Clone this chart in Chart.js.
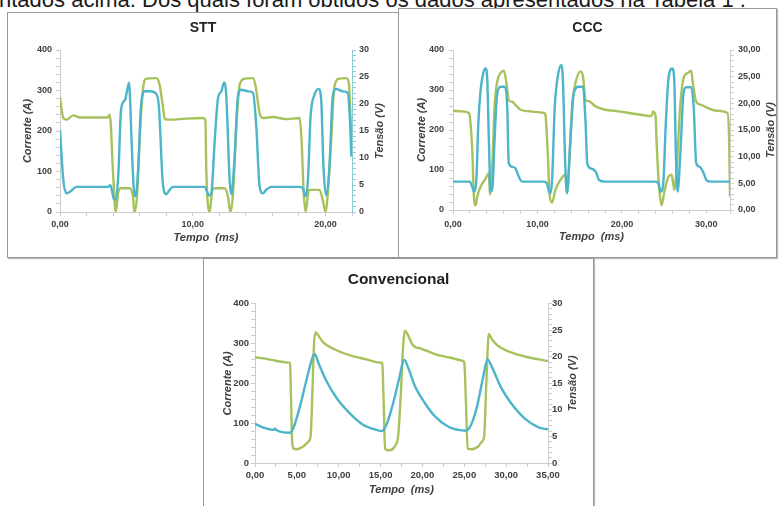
<!DOCTYPE html>
<html>
<head>
<meta charset="utf-8">
<script src="https://cdn.jsdelivr.net/npm/chart.js@4.4.1/dist/chart.umd.min.js"></script>
<style>
  body { margin: 0; width: 779px; height: 506px; overflow: hidden; background: #fff; position: relative;
         font-family: "Liberation Sans", Arial, sans-serif; }
  #texto { position: absolute; left: -1px; top: -11px; font-size: 22px; line-height: 22px; white-space: nowrap; color: #1a1a1a; }
  .painel { position: absolute; background: #fff; border: 1px solid #999; box-sizing: border-box; box-shadow: 1px 1px 1px #bbb; }
  .painel canvas { position: absolute; left: 0; top: 0; }
</style>
</head>
<body>
<div id="texto">ntados acima. Dos quais foram obtidos os dados apresentados na Tabela 1 .</div>
<div class="painel" style="left:7px;top:12px;width:392px;height:246px"><canvas id="stt" width="390" height="244"></canvas></div>
<div class="painel" style="left:398px;top:8px;width:379px;height:250px"><canvas id="ccc" width="377" height="248"></canvas></div>
<div class="painel" style="left:203px;top:258px;width:391px;height:250px"><canvas id="conv" width="389" height="248"></canvas></div>

<script>
// STT (tempo em ms, corrente em A, tensão em V)
const sttTempoCorrente = [0, 0.25, 0.5, 0.75, 1.25, 3.6, 3.8, 4.05, 4.2, 4.4, 4.6, 4.9, 5.2, 5.4, 5.55, 5.7, 5.9, 6.1, 6.4, 6.75, 7.25, 7.45, 7.75, 8.0, 8.25, 8.5,
  10.9, 11.23, 11.4, 11.66, 11.91, 12.16, 12.36, 12.53, 12.78, 12.91, 13.16, 13.41, 13.66, 14.16, 14.54, 14.79, 15.04, 15.29, 15.54, 15.92,
  18.05, 18.3, 18.5, 18.68, 18.88, 19.18, 19.48, 19.68, 19.85, 20.05, 20.3, 20.55, 20.8, 21.3, 21.68, 21.86, 21.95]
const sttCorrente = [203, 79, 46, 50, 62, 62, 66, 33, 31, 95, 253, 277, 319, 170, 62, 39, 112, 261, 298, 298, 292, 261, 70, 44, 54, 62,
  62, 41, 46, 178, 282, 298, 320, 286, 79, 44, 137, 286, 302, 298, 294, 211, 62, 46, 55, 62,
  62, 58, 39, 79, 236, 290, 304, 277, 112, 41, 112, 286, 304, 298, 294, 219, 137]
const sttTempoTensao = [0, 0.25, 0.5, 1.0, 1.5, 3.6, 3.75, 4.0, 4.2, 4.4, 4.6, 5.25, 5.5, 5.6, 5.8, 6.0, 6.25, 6.5, 7.25, 7.5, 7.75, 7.9, 8.25, 9.5, 10.75,
  10.95, 11.03, 11.28, 11.48, 11.66, 12.41, 12.66, 12.84, 13.04, 13.29, 13.54, 13.91, 14.54, 14.74, 15.04, 15.29, 16.0, 17.0, 18.05,
  18.2, 18.35, 18.5, 18.75, 19.55, 19.8, 20.0, 20.18, 20.43, 20.68, 21.05, 21.56, 21.76, 21.95]
const sttTensao = [21.2, 17.4, 17.1, 17.9, 17.5, 17.5, 18.0, 7.1, 0, 3.8, 4.4, 4.4, 2.8, 0, 2.8, 13.4, 22.7, 24.7, 24.8, 23.6, 19.6, 17.2, 17.1, 17.3, 17.4,
  17.1, 7.1, 0, 4.1, 4.4, 4.4, 2.8, 0, 3.5, 16.4, 23.6, 24.7, 24.8, 23.3, 18.3, 17.4, 17.6, 17.2, 17.4,
  13.4, 4.1, 0, 4.1, 4.1, 2.2, 0, 3.5, 13.4, 23.3, 24.7, 24.8, 23.9, 13.4]

// CCC
const cccTempoCorrente = [0, 2.0, 2.28, 2.48, 2.76, 3.0, 3.27, 3.58, 3.86, 4.06, 4.25, 4.45, 4.68, 4.92, 5.24, 5.7, 6.1, 6.42, 6.6, 7.0, 7.4, 7.8, 8.2,
  10.75, 11.1, 11.46, 11.73, 12.05, 12.4, 12.8, 13.0, 13.3, 13.5, 13.9, 14.3, 14.9, 15.4, 15.7, 15.9, 16.3, 16.9, 17.3, 18.0,
  23.9, 24.3, 24.6, 24.9, 25.2, 25.5, 25.96, 26.2, 26.4, 26.6, 26.9, 27.3, 27.6, 28.2, 28.5, 28.8, 29.2, 29.6, 30.0, 30.4, 32.8]
const cccCorrente = [71, 71, 58, 46, 75, 217, 300, 342, 354, 325, 175, 46, 58, 175, 292, 308, 308, 258, 117, 108, 104, 83, 71,
  71, 67, 42, 75, 258, 333, 362, 333, 108, 42, 175, 292, 308, 308, 217, 117, 104, 96, 75, 71,
  71, 67, 46, 67, 217, 325, 354, 325, 133, 46, 133, 292, 307, 307, 258, 117, 108, 96, 75, 71, 71]
const cccTempoTensao = [0, 1.0, 1.89, 2.0, 2.28, 2.48, 2.68, 2.87, 3.27, 3.86, 4.25, 4.37, 4.65, 4.92, 5.24, 5.63, 6.02, 6.3, 6.6, 7.0, 7.4, 8.0, 9.2, 10.75,
  10.94, 11.2, 11.46, 11.73, 12.13, 12.7, 13.3, 13.5, 13.8, 14.1, 14.5, 15.1, 15.4, 15.7, 16.1, 16.9, 18.0, 19.6, 21.6, 23.5, 23.7, 24.0,
  24.1, 24.4, 24.7, 25.0, 25.5, 25.9, 26.2, 26.5, 26.9, 27.3, 27.8, 28.2, 28.4, 28.8, 29.4, 30.2, 31.2, 32.5, 32.7, 32.8]
const cccTensao = [18.6, 18.5, 18.2, 17.5, 11.3, 2.5, 0.9, 2.5, 4.4, 5.9, 6.9, 2.9, 8.1, 19.4, 24.1, 25.7, 26.1, 24.1, 20.6, 20.3, 19.7, 18.8, 18.5, 18.2,
  17.9, 11.3, 2.5, 1.4, 3.8, 5.6, 6.6, 3.2, 10.0, 19.4, 23.8, 26.0, 25.0, 20.6, 20.4, 19.4, 18.8, 18.5, 18.0, 17.6, 18.5, 17.5,
  13.1, 4.4, 0.9, 3.2, 6.2, 6.6, 3.8, 8.1, 19.4, 24.7, 25.7, 26.1, 23.8, 20.3, 19.7, 19.1, 18.6, 18.2, 13.1, 2.5]

// Convencional
const convTempoCorrente = [0, 1.0, 2.2, 2.4, 2.6, 3.4, 4.18, 4.57, 5.37, 6.17, 6.96, 7.16, 7.56, 8.55, 9.75, 11.3, 12.9, 14.5, 15.1,
  15.7, 16.5, 17.2, 17.82, 18.3, 19.1, 20.3, 21.5, 23.1, 24.3, 25.1, 25.7, 26.5, 27.25, 27.77, 28.25, 29.4, 30.6, 32.2, 33.8, 35.0]
const convCorrente = [98, 89, 83, 86, 82, 77, 76, 87, 142, 210, 270, 273, 252, 205, 163, 125, 96, 83, 80,
  96, 150, 210, 259, 239, 193, 150, 117, 91, 83, 81, 91, 140, 215, 260, 243, 189, 150, 112, 90, 84]
const convTempoTensao = [0, 1.0, 2.6, 4.0, 4.18, 4.3, 4.45, 4.65, 4.97, 5.77, 6.36, 6.64, 6.84, 7.04, 7.24, 7.56, 8.15, 9.35, 11.3, 13.3, 14.9,
  15.2, 15.35, 15.55, 15.9, 16.9, 17.1, 17.4, 17.7, 17.9, 18.2, 18.9, 19.9, 21.5, 23.1, 24.86,
  25.0, 25.2, 25.4, 25.9, 26.65, 27.1, 27.37, 27.65, 27.93, 28.3, 29.0, 30.6, 32.6, 35.0]
const convTensao = [19.9, 19.7, 19.2, 18.9, 18.9, 12.5, 3.7, 2.7, 2.6, 3.1, 4.0, 5.0, 12.5, 22.1, 24.6, 24.0, 22.7, 21.5, 20.3, 19.5, 18.9,
  18.9, 12.5, 2.7, 2.4, 3.7, 5.0, 12.5, 22.1, 24.9, 24.3, 22.1, 21.5, 20.5, 19.9, 19.2,
  18.9, 11.3, 2.7, 2.6, 3.1, 4.0, 5.0, 15.8, 24.3, 23.3, 22.1, 20.8, 19.9, 19.2]

const azul = '#4db4c9'
const verde = '#a7c25c'
const cinza = '#cccccc'
Chart.defaults.font.family = '"Liberation Sans", Arial, sans-serif'
Chart.defaults.color = '#505050'

function pontos(tempos, valores) {
  return tempos.map((t, i) => ({ x: t, y: valores[i] }))
}

function virgula(v, casas) {
  return v.toFixed(casas).replace('.', ',')
}

function multiplo(v, passo) {
  return Math.abs(v / passo - Math.round(v / passo)) < 1e-6
}

// título do eixo da direita, escrito de baixo para cima como no original
const tituloDireito = {
  id: 'tituloDireito',
  afterDraw(chart, args, opts) {
    const ctx = chart.ctx
    const area = chart.chartArea
    ctx.save()
    ctx.translate(opts.x, (area.top + area.bottom) / 2)
    ctx.rotate(-Math.PI / 2)
    ctx.font = 'italic bold 11px "Liberation Sans", Arial, sans-serif'
    ctx.fillStyle = '#444'
    ctx.textAlign = 'center'
    ctx.textBaseline = 'middle'
    ctx.fillText(opts.texto, 0, 0)
    ctx.restore()
  }
}

function grafico(id, p) {
  new Chart(document.getElementById(id), {
    type: 'line',
    data: {
      datasets: [
        { label: 'Corrente', data: pontos(p.tc, p.corrente), yAxisID: 'y', borderColor: azul, borderWidth: 2.4,
          pointRadius: 0, cubicInterpolationMode: 'monotone' },
        { label: 'Tensão', data: pontos(p.tt, p.tensao), yAxisID: 'y1', borderColor: verde, borderWidth: 2.4,
          pointRadius: 0, cubicInterpolationMode: 'monotone' }
      ]
    },
    plugins: [tituloDireito],
    options: {
      responsive: false,
      animation: false,
      devicePixelRatio: 1,
      layout: { padding: 0 },
      plugins: {
        legend: { display: false },
        tooltip: { enabled: false },
        title: { display: true, text: p.titulo, color: '#222',
          font: { size: p.tamTitulo, weight: 'bold' }, padding: { top: p.tituloTopo, bottom: p.tituloBase } },
        tituloDireito: { x: p.xTituloDir, texto: 'Tensão (V)' }
      },
      scales: {
        x: {
          type: 'linear', min: 0, max: p.xMax,
          border: { color: cinza },
          grid: { drawOnChartArea: false, color: cinza, tickLength: 4 },
          ticks: { stepSize: p.xPasso, autoSkip: false, maxRotation: 0, padding: p.xPad, color: '#404040',
            font: { size: p.tamTick, weight: 'bold' },
            callback: v => multiplo(v, p.xRotulo) ? virgula(v, 2) : '' },
          title: { display: true, text: 'Tempo  (ms)', color: '#404040', font: { size: 11, weight: 'bold', style: 'italic' },
            padding: { top: 0, bottom: p.xTituloPad } },
          afterFit: s => { s.height = p.xAlt }
        },
        y: {
          position: 'left', min: 0, max: 400,
          border: { color: cinza },
          grid: { drawOnChartArea: false, color: cinza, tickLength: 4 },
          ticks: { stepSize: 20, autoSkip: false, padding: p.yPad, color: '#404040',
            font: { size: p.tamTick, weight: 'bold' },
            callback: v => multiplo(v, 100) ? String(v) : '' },
          title: { display: true, text: 'Corrente (A)', color: '#404040', font: { size: 11, weight: 'bold', style: 'italic' },
            padding: { top: p.yTituloPad, bottom: 0 } },
          afterFit: s => { s.width = p.yLarg }
        },
        y1: {
          position: 'right', min: 0, max: 30,
          border: { color: p.corDir },
          grid: { drawOnChartArea: false, color: p.corDir, tickLength: 4 },
          ticks: { stepSize: 1, autoSkip: false, padding: p.y1Pad, color: '#404040',
            font: { size: p.tamTick, weight: 'bold' },
            callback: v => multiplo(v, 5) ? (p.decimais ? virgula(v, 2) : String(v)) : '' },
          afterFit: s => { s.width = p.y1Larg }
        }
      }
    }
  })
}

grafico('stt', {
  titulo: 'STT', tamTitulo: 14, tituloTopo: 6.6, tituloBase: 13.6,
  tc: sttTempoCorrente, corrente: sttCorrente, tt: sttTempoTensao, tensao: sttTensao,
  xMax: 22, xPasso: 2, xRotulo: 10, xAlt: 45, xPad: 3, xTituloPad: 12.4,
  yLarg: 52, yPad: 4, yTituloPad: 13.4, y1Larg: 46, y1Pad: 3, xTituloDir: 372,
  corDir: '#8ccad6', decimais: false, tamTick: 9
})

grafico('ccc', {
  titulo: 'CCC', tamTitulo: 14, tituloTopo: 10.6, tituloBase: 13.6,
  tc: cccTempoCorrente, corrente: cccCorrente, tt: cccTempoTensao, tensao: cccTensao,
  xMax: 32.8, xPasso: 2, xRotulo: 10, xAlt: 47, xPad: 5, xTituloPad: 13.7,
  yLarg: 54, yPad: 5, yTituloPad: 16.1, y1Larg: 46, y1Pad: 4, xTituloDir: 372,
  corDir: cinza, decimais: true, tamTick: 9
})

grafico('conv', {
  titulo: 'Convencional', tamTitulo: 15.5, tituloTopo: 11, tituloBase: 15,
  tc: convTempoCorrente, corrente: convCorrente, tt: convTempoTensao, tensao: convTensao,
  xMax: 35, xPasso: 2.5, xRotulo: 5, xAlt: 44, xPad: 3, xTituloPad: 10.4,
  yLarg: 51, yPad: 2, yTituloPad: 17.4, y1Larg: 45, y1Pad: 0, xTituloDir: 369,
  corDir: cinza, decimais: false, tamTick: 9.5
})
</script>
</body>
</html>
